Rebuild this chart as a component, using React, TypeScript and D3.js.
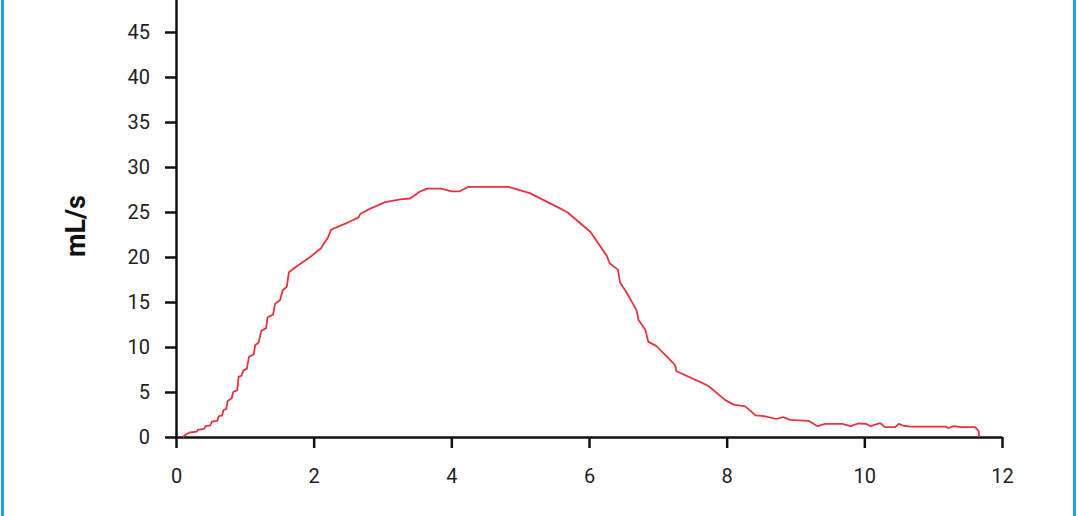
import React, { useEffect, useRef } from "react";
import * as d3 from "d3";

const xTicks = [0, 2, 4, 6, 8, 10, 12];
const yTicks = [0, 5, 10, 15, 20, 25, 30, 35, 40, 45];

const timeSec = [
  0.1, 0.15, 0.2, 0.3, 0.32, 0.41, 0.43, 0.5, 0.52, 0.6, 0.62, 0.67, 0.69, 0.73, 0.75, 0.81, 0.83, 0.89, 0.91, 0.95,
  0.98, 1.03, 1.06, 1.13, 1.15, 1.2, 1.24, 1.31, 1.33, 1.41, 1.44, 1.51, 1.55, 1.61, 1.64, 1.76, 1.95, 2.11, 2.14,
  2.21, 2.25, 2.33, 2.46, 2.65, 2.68, 2.83, 3.04, 3.26, 3.4, 3.55, 3.65, 3.85, 4.0, 4.12, 4.25, 4.5, 4.83, 5.14,
  5.58, 5.68, 6.02, 6.26, 6.3, 6.42, 6.45, 6.55, 6.69, 6.72, 6.82, 6.86, 6.98, 7.15, 7.25, 7.27, 7.62, 7.73, 7.98,
  8.1, 8.27, 8.42, 8.56, 8.72, 8.82, 8.92, 9.19, 9.32, 9.43, 9.68, 9.8, 9.91, 10.03, 10.09, 10.23, 10.3, 10.45,
  10.5, 10.57, 10.67, 11.18, 11.22, 11.3, 11.4, 11.61, 11.66, 11.67,
];

const flowMlS = [
  0, 0.3, 0.5, 0.6, 0.8, 0.9, 1.2, 1.3, 1.7, 1.8, 2.3, 2.4, 3.0, 3.1, 4.0, 4.3, 5.0, 5.2, 6.7, 6.8, 7.4, 7.6, 8.9,
  9.2, 10.2, 10.5, 11.8, 12.1, 13.3, 13.6, 14.8, 15.2, 16.3, 16.7, 18.3, 19.0, 20.0, 21.0, 21.4, 22.2, 23.0, 23.3,
  23.7, 24.4, 24.8, 25.4, 26.1, 26.4, 26.5, 27.3, 27.6, 27.6, 27.3, 27.3, 27.8, 27.8, 27.8, 27.1, 25.4, 25.0, 22.8,
  20.1, 19.3, 18.6, 17.2, 16.0, 14.1, 13.0, 11.9, 10.6, 10.1, 8.8, 8.0, 7.3, 6.1, 5.7, 4.1, 3.6, 3.4, 2.4, 2.3, 2.0,
  2.2, 1.9, 1.8, 1.2, 1.45, 1.45, 1.2, 1.5, 1.45, 1.2, 1.55, 1.1, 1.1, 1.45, 1.25, 1.15, 1.15, 1.0, 1.2, 1.1, 1.1,
  0.65, 0,
];

const W = 1078;
const H = 516;

export default function App() {
  const ref = useRef<SVGSVGElement>(null);

  useEffect(() => {
    const svg = d3.select(ref.current);
    svg.selectAll("*").remove();

    const x = d3.scaleLinear().domain([0, 12]).range([176, 1002]);
    const y = d3.scaleLinear().domain([0, 50]).range([437, -13]);

    // borders
    svg.append("rect").attr("x", 1).attr("y", 0).attr("width", 3).attr("height", H).attr("fill", "#1ea4e4");
    svg.append("rect").attr("x", 1073).attr("y", 0).attr("width", 3).attr("height", H).attr("fill", "#1ea4e4");

    const font = "Roboto, 'DejaVu Sans', sans-serif";

    const gx = svg
      .append("g")
      .attr("transform", `translate(0,${y(0)})`)
      .call(
        d3
          .axisBottom(x)
          .tickValues(xTicks)
          .tickFormat(d3.format("d") as any)
          .tickSize(11)
          .tickSizeOuter(0)
          .tickPadding(21)
      );
    gx.select(".domain").attr("stroke", "#111").attr("stroke-width", 2.5);
    gx.selectAll(".tick line").attr("stroke", "#111").attr("stroke-width", 2.5);
    gx.selectAll("text").attr("font-family", font).attr("font-size", 20).attr("fill", "#222");

    const gy = svg
      .append("g")
      .attr("transform", `translate(${x(0)},0)`)
      .call(
        d3
          .axisLeft(y)
          .tickValues(yTicks)
          .tickFormat(d3.format("d") as any)
          .tickSize(11)
          .tickSizeOuter(0)
          .tickPadding(15)
      );
    gy.select(".domain").attr("stroke", "#111").attr("stroke-width", 2.5);
    gy.selectAll(".tick line").attr("stroke", "#111").attr("stroke-width", 2.5);
    gy.selectAll("text").attr("font-family", font).attr("font-size", 20).attr("fill", "#222");

    // extension of y axis below origin (tick for x=0 already drawn by x axis)

    svg
      .append("text")
      .attr("transform", `translate(85,226) rotate(-90)`)
      .attr("text-anchor", "middle")
      .attr("font-family", font)
      .attr("font-weight", "bold")
      .attr("font-size", 27)
      .attr("fill", "#111")
      .text("mL/s");

    const pts = timeSec.map((t, i) => [t, flowMlS[i]] as [number, number]);
    const line = d3
      .line<[number, number]>()
      .x((d) => x(d[0]))
      .y((d) => y(d[1]));
    svg
      .append("path")
      .attr("d", line(pts))
      .attr("fill", "none")
      .attr("stroke", "#e53342")
      .attr("stroke-width", 1.8)
      .attr("stroke-linejoin", "round");
  }, []);

  return (
    <svg
      ref={ref}
      width={W}
      height={H}
      style={{ position: "absolute", left: 0, top: 0, background: "#fff", display: "block" }}
    />
  );
}
